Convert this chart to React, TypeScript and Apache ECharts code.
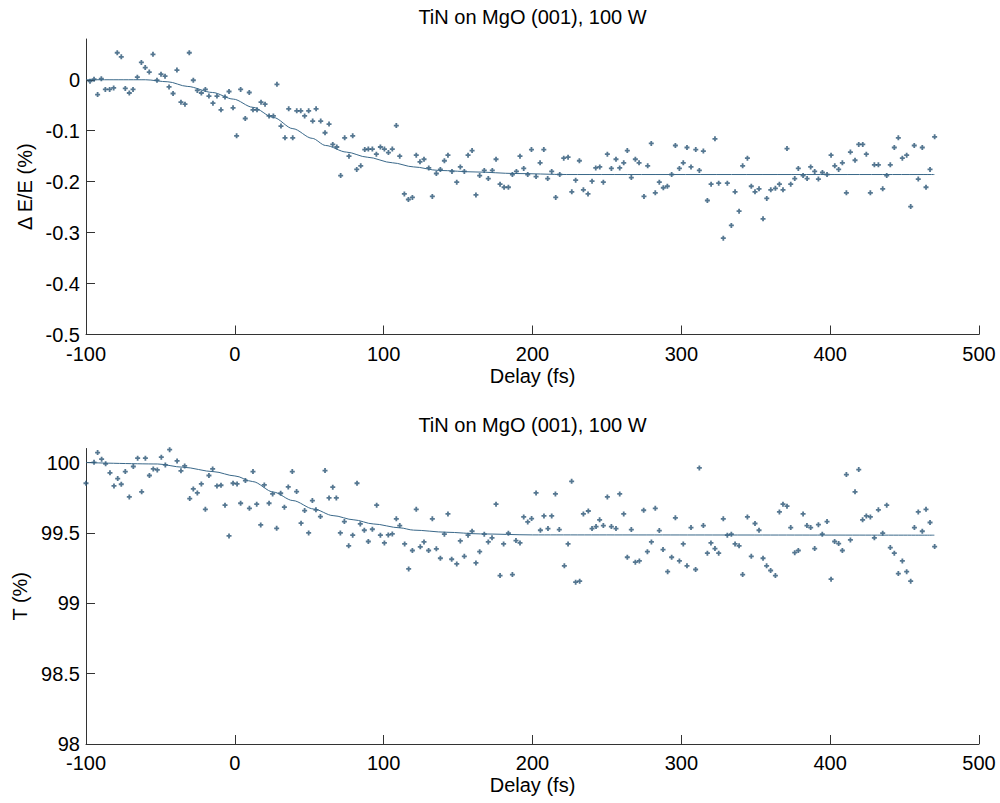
import React, { useEffect, useRef } from "react";
import * as echarts from "echarts";

// ---------- data ----------
const chartTitle = "TiN on MgO (001), 100 W";
const xAxisName = "Delay (fs)";
const topYName = "\u0394 E/E (%)";
const bottomYName = "T (%)";

const xTicks = [-100, 0, 100, 200, 300, 400, 500];
const topYTicks = [-0.5, -0.4, -0.3, -0.2, -0.1, 0];
const bottomYTicks = [98, 98.5, 99, 99.5, 100];

// Top panel: measured points
const topDelay = [
  -97.3, -94.6, -92.2, -89.7, -87.0, -84.1, -81.4, -79.0, -76.3, -73.6, -70.9, -68.4, -65.5, -62.8, -60.2, -57.5, -55.0, -52.3, -49.6, -46.9,
  -44.2, -41.5, -38.9, -36.2, -33.5, -30.6, -27.9, -25.2, -22.5, -19.8, -17.4, -14.7, -12.0, -9.3, -6.6, -3.9, -1.2, 1.2, 3.9, 7.0,
  9.7, 12.2, 14.9, 17.6, 20.3, 23.0, 25.9, 28.3, 31.0, 33.7, 36.2, 38.9, 41.6, 44.3, 46.9, 49.6, 52.3, 54.6, 57.7, 60.6,
  63.3, 65.8, 68.5, 71.1, 73.8, 76.7, 79.2, 81.9, 84.6, 87.3, 89.7, 92.4, 95.1, 97.8, 100.5, 103.2, 105.8, 108.5, 110.8,
  113.9, 116.6, 119.3, 121.9, 124.4, 127.1, 130.3, 132.7, 135.4, 138.1, 140.8, 143.2, 145.9, 149.1, 151.5, 154.2, 156.7, 159.4, 162.0, 164.5,
  167.6, 170.3, 173.0, 175.5, 178.2, 180.9, 183.8, 186.5, 189.2, 191.6, 194.1, 196.8, 199.3, 202.4, 205.1, 207.6, 210.2, 212.9, 215.6, 218.3,
  221.0, 223.9, 226.4, 229.0, 231.5, 234.2, 237.3, 240.0, 242.5, 245.2, 247.6, 250.3, 253.0, 256.1, 258.6, 261.3, 263.7, 266.4, 269.1, 271.6,
  274.9, 277.4, 279.8, 282.5, 285.2, 287.9, 290.6,
  293.5, 296.0, 298.7, 301.3, 303.8, 306.5, 309.7, 312.1, 314.8, 317.5, 320.0, 322.6, 325.1, 328.2, 330.9, 333.6, 336.1, 338.8, 341.2, 344.4,
  347.0, 349.5, 352.2, 354.9, 357.4, 360.1, 363.2, 365.9, 368.3, 371.0, 373.5, 376.2, 378.6, 381.8, 384.5, 386.9, 389.6, 392.1, 394.8, 397.9,
  400.6, 403.1, 405.7, 408.2, 410.9, 413.6, 416.7, 419.2, 421.9, 424.3, 427.0, 429.7, 432.4, 435.3, 438.0, 440.4, 443.1, 445.8, 448.5, 451.4,
  454.1, 456.5, 459.2, 461.9, 464.4, 467.1, 470.2,
];
const topValue = [
  -0.003, 0.001, -0.029, 0.002, -0.019, -0.019, -0.016, 0.053, 0.045, -0.017, -0.026, -0.019, 0.005, 0.034, 0.024, 0.015, 0.050, -0.001, 0.011, 0.007,
  -0.014, -0.027, 0.019, -0.044, -0.048, 0.053, -0.001, -0.021, -0.026, -0.019, -0.032, -0.046, -0.032, -0.059, -0.034, -0.023, -0.055, -0.110, -0.019, -0.076,
  -0.025, -0.059, -0.059, -0.044, -0.048, -0.071, -0.071, -0.009, -0.091, -0.114, -0.057, -0.114, -0.061, -0.061, -0.071, -0.061, -0.081, -0.057, -0.081, -0.104,
  -0.087, -0.127, -0.132, -0.188, -0.114, -0.150, -0.110, -0.176, -0.169, -0.137, -0.136, -0.136, -0.146, -0.132, -0.136, -0.143, -0.136, -0.090, -0.150,
  -0.224, -0.235, -0.231, -0.148, -0.161, -0.156, -0.173, -0.229, -0.184, -0.176, -0.159, -0.148, -0.180, -0.201, -0.171, -0.180, -0.148, -0.139, -0.226, -0.188,
  -0.178, -0.194, -0.178, -0.156, -0.205, -0.211, -0.211, -0.186, -0.180, -0.150, -0.174, -0.186, -0.137, -0.190, -0.163, -0.137, -0.194, -0.180, -0.231, -0.186,
  -0.154, -0.152, -0.220, -0.197, -0.159, -0.216, -0.224, -0.199, -0.173, -0.171, -0.201, -0.146, -0.174, -0.156, -0.173, -0.163, -0.139, -0.192, -0.156, -0.163,
  -0.229, -0.169, -0.125, -0.222, -0.201, -0.212, -0.209,
  -0.186, -0.129, -0.174, -0.163, -0.133, -0.171, -0.137, -0.178, -0.140, -0.237, -0.205, -0.116, -0.203, -0.311, -0.203, -0.286, -0.220, -0.258, -0.169, -0.154,
  -0.209, -0.220, -0.214, -0.273, -0.233, -0.216, -0.213, -0.205, -0.216, -0.135, -0.205, -0.194, -0.174, -0.188, -0.194, -0.171, -0.180, -0.195, -0.182, -0.186,
  -0.148, -0.169, -0.176, -0.163, -0.222, -0.142, -0.158, -0.127, -0.127, -0.146, -0.222, -0.167, -0.167, -0.214, -0.188, -0.167, -0.133, -0.114, -0.154, -0.148,
  -0.249, -0.129, -0.195, -0.133, -0.211, -0.176, -0.112,
];

// Top panel: fitted curve
const topFitDelay = [-100, -60, -45, -32, -15, -1, 12, 26, 39, 52, 61, 75, 89, 106, 120, 137, 162, 188, 223, 470];
const topFitValue = [0, 0, -0.004, -0.013, -0.025, -0.038, -0.054, -0.074, -0.096, -0.115, -0.129, -0.142, -0.152, -0.163, -0.171, -0.178, -0.181, -0.184, -0.186, -0.186];

// Bottom panel: measured points
const bottomDelay = [
  -100.0, -94.6, -92.2, -89.5, -86.8, -83.9, -81.2, -78.7, -76.3, -73.6, -70.9, -68.2, -65.3, -62.6, -60.1, -57.4, -54.8, -52.1, -49.4, -46.7,
  -43.8, -38.8, -36.2, -33.7, -30.3, -27.9, -25.2, -22.5, -19.8, -17.4, -14.9, -12.0, -9.3, -6.6, -3.9, -1.2, 1.5, 3.9, 7.1, 9.8,
  12.2, 14.7, 17.4, 19.8, 23.0, 25.4, 28.1, 30.8, 33.3, 35.9, 38.6, 41.5, 44.5, 46.9, 49.6, 52.1, 54.5, 57.5, 60.6, 63.3,
  65.8, 68.2, 70.9, 73.6, 76.5, 79.2, 82.1, 84.3, 87.0, 89.7, 92.4, 95.3, 97.8, 100.5, 103.1, 105.8, 108.5, 110.8,
  114.1, 116.8, 119.3, 121.9, 124.6, 127.1, 130.2, 132.7, 135.4, 138.1, 140.8, 143.2, 145.7, 149.1, 151.5, 154.2, 156.7, 159.4, 162.0, 164.5,
  167.6, 170.3, 172.8, 175.5, 178.2, 180.6, 183.8, 186.5, 188.9, 191.6, 194.1, 196.8, 199.4, 202.4, 205.3, 207.7, 210.4, 212.9, 215.4, 218.0,
  221.4, 223.9, 226.3, 229.0, 231.7, 234.2, 237.5, 240.0, 242.7, 245.1, 247.6, 250.3, 253.0, 256.1, 258.6, 261.3, 263.7, 266.4, 269.1, 271.8,
  274.7, 277.2, 279.9, 282.5, 285.2, 287.7, 290.8,
  293.5, 296.0, 298.7, 301.3, 303.8, 306.5, 309.6, 312.1, 314.8, 317.5, 319.9, 322.6, 325.1, 328.2, 330.9, 333.6, 336.1, 338.8, 341.2, 344.4,
  347.0, 349.5, 352.2, 354.9, 357.3, 360.0, 363.2, 365.9, 368.3, 371.0, 373.5, 376.2, 378.6, 381.8, 384.4, 386.9, 389.6, 392.1, 394.7, 397.9,
  400.6, 403.0, 405.7, 408.2, 410.9, 413.6, 416.7, 419.2, 421.8, 424.3, 427.0, 429.7, 432.4, 435.3, 438.0, 440.4, 443.1, 445.8, 448.5, 451.4,
  454.1, 456.6, 459.2, 461.9, 464.4, 467.1, 470.2,
];
const bottomValue = [
  99.853, 100.002, 100.071, 100.024, 99.991, 99.927, 99.834, 99.886, 99.846, 99.936, 99.756, 99.972, 100.031, 99.792, 100.031, 99.908, 99.955, 99.948, 100.038, 99.983,
  100.092, 100.012, 99.941, 99.976, 99.744, 99.813, 99.784, 99.848, 99.668, 99.908, 99.955, 99.834, 99.839, 99.697, 99.479, 99.853, 99.848, 99.711, 99.872, 99.675,
  99.936, 99.704, 99.557, 99.841, 99.711, 99.777, 99.533, 99.782, 99.683, 99.827, 99.936, 99.794, 99.569, 99.659, 99.500, 99.730, 99.664, 99.616, 99.943, 99.749,
  99.825, 99.749, 99.500, 99.581, 99.408, 99.484, 99.853, 99.564, 99.519, 99.439, 99.526, 99.697, 99.484, 99.429, 99.486, 99.493, 99.600, 99.552,
  99.422, 99.244, 99.375, 99.668, 99.401, 99.436, 99.375, 99.600, 99.387, 99.320, 99.491, 99.635, 99.313, 99.280, 99.443, 99.334, 99.484, 99.512, 99.287, 99.367,
  99.491, 99.436, 99.465, 99.704, 99.197, 99.422, 99.498, 99.204, 99.446, 99.429, 99.614, 99.578, 99.602, 99.784, 99.519, 99.621, 99.531, 99.621, 99.777, 99.524,
  99.266, 99.422, 99.867, 99.150, 99.157, 99.635, 99.656, 99.531, 99.545, 99.593, 99.552, 99.756, 99.545, 99.531, 99.777, 99.635, 99.327, 99.524, 99.292, 99.301,
  99.661, 99.367, 99.436, 99.675, 99.517, 99.382, 99.225,
  99.327, 99.607, 99.301, 99.422, 99.266, 99.538, 99.240, 99.962, 99.552, 99.356, 99.429, 99.389, 99.356, 99.600, 99.484, 99.491, 99.422, 99.408, 99.204, 99.614,
  99.334, 99.567, 99.519, 99.320, 99.266, 99.233, 99.197, 99.649, 99.704, 99.690, 99.538, 99.360, 99.375, 99.635, 99.552, 99.538, 99.389, 99.559, 99.491, 99.581,
  99.171, 99.439, 99.424, 99.375, 99.915, 99.450, 99.792, 99.950, 99.593, 99.621, 99.614, 99.465, 99.664, 99.498, 99.697, 99.396, 99.356, 99.211, 99.301, 99.225,
  99.157, 99.538, 99.649, 99.512, 99.668, 99.574, 99.403,
];

// Bottom panel: fitted curve
const bottomFitDelay = [-100, -52, -35, -14, 0, 12, 26, 39, 53, 66, 80, 93, 111, 120, 142, 165, 200, 470];
const bottomFitValue = [100, 99.99, 99.967, 99.935, 99.905, 99.865, 99.79, 99.73, 99.67, 99.623, 99.593, 99.564, 99.536, 99.52, 99.505, 99.493, 99.486, 99.484];

// ---------- styling ----------
const FONT = "'Liberation Sans', Arial, Helvetica, sans-serif";
const MARK_COLOR = "#2a5575";
const LINE_COLOR = "#3a6889";
const AXIS_COLOR = "#333333";
const PLUS = "path://M1.6,0H3.4V1.6H5V3.4H3.4V5H1.6V3.4H0V1.6H1.6Z";

const zip = (xs: number[], ys: number[]) => xs.map((x, i) => [x, ys[i]]);

function xAxisFor(gridIndex: number) {
  return {
    type: "value",
    gridIndex,
    min: -100,
    max: 500,
    interval: 100,
    name: xAxisName,
    nameLocation: "middle",
    nameGap: 31,
    nameTextStyle: { fontSize: 20, color: "#000", fontFamily: FONT },
    axisLine: { show: true, onZero: false, lineStyle: { color: AXIS_COLOR, width: 1 } },
    axisTick: { show: true, inside: true, length: 9, customValues: xTicks, lineStyle: { color: AXIS_COLOR, width: 1 } },
    axisLabel: { fontSize: 20, lineHeight: 16, color: "#000", fontFamily: FONT, margin: 11, customValues: xTicks },
    splitLine: { show: false },
  };
}

function yAxisFor(gridIndex: number, min: number, max: number, ticks: number[], name: string) {
  return {
    type: "value",
    gridIndex,
    min,
    max,
    name,
    nameLocation: "middle",
    nameGap: 47,
    nameTextStyle: { fontSize: 20, color: "#000", fontFamily: FONT },
    axisLine: { show: true, onZero: false, lineStyle: { color: AXIS_COLOR, width: 1 } },
    axisTick: { show: true, inside: true, length: 9, customValues: ticks, lineStyle: { color: AXIS_COLOR, width: 1 } },
    axisLabel: { fontSize: 20, lineHeight: 16, color: "#000", fontFamily: FONT, margin: 6, customValues: ticks },
    splitLine: { show: false },
  };
}

export default function App() {
  const ref = useRef<HTMLDivElement>(null);

  useEffect(() => {
    if (!ref.current) return;
    const chart = echarts.init(ref.current, undefined, { renderer: "svg" });
    const option = {
      animation: false,
      backgroundColor: "#ffffff",
      textStyle: { fontFamily: FONT },
      grid: [
        { left: 86, right: 21, top: 39, height: 295.5 },
        { left: 86, right: 21, top: 448.5, height: 295.5 },
      ],
      xAxis: [xAxisFor(0), xAxisFor(1)],
      yAxis: [
        yAxisFor(0, -0.5, 0.08, topYTicks, topYName),
        yAxisFor(1, 98, 100.1, bottomYTicks, bottomYName),
      ],
      graphic: [
        {
          type: "text",
          x: 532.5,
          y: 7,
          style: { text: chartTitle, fontSize: 20, fontFamily: FONT, fill: "#000", textAlign: "center", textVerticalAlign: "top" },
        },
        {
          type: "text",
          x: 532.5,
          y: 415,
          style: { text: chartTitle, fontSize: 20, fontFamily: FONT, fill: "#000", textAlign: "center", textVerticalAlign: "top" },
        },
      ],
      series: [
        {
          type: "scatter",
          xAxisIndex: 0,
          yAxisIndex: 0,
          data: zip(topDelay, topValue),
          symbol: PLUS,
          symbolSize: 5,
          itemStyle: { color: MARK_COLOR },
          silent: true,
        },
        {
          type: "line",
          xAxisIndex: 0,
          yAxisIndex: 0,
          data: zip(topFitDelay, topFitValue),
          showSymbol: false,
          smooth: 0.3,
          smoothMonotone: "x",
          lineStyle: { color: LINE_COLOR, width: 1 },
          silent: true,
        },
        {
          type: "scatter",
          xAxisIndex: 1,
          yAxisIndex: 1,
          data: zip(bottomDelay, bottomValue),
          symbol: PLUS,
          symbolSize: 5,
          itemStyle: { color: MARK_COLOR },
          silent: true,
        },
        {
          type: "line",
          xAxisIndex: 1,
          yAxisIndex: 1,
          data: zip(bottomFitDelay, bottomFitValue),
          showSymbol: false,
          smooth: 0.3,
          smoothMonotone: "x",
          lineStyle: { color: LINE_COLOR, width: 1 },
          silent: true,
        },
      ],
    };
    chart.setOption(option as any);
    return () => chart.dispose();
  }, []);

  return (
    <div
      ref={ref}
      style={{ position: "absolute", left: 0, top: 0, width: 1000, height: 803, background: "#fff" }}
    />
  );
}
